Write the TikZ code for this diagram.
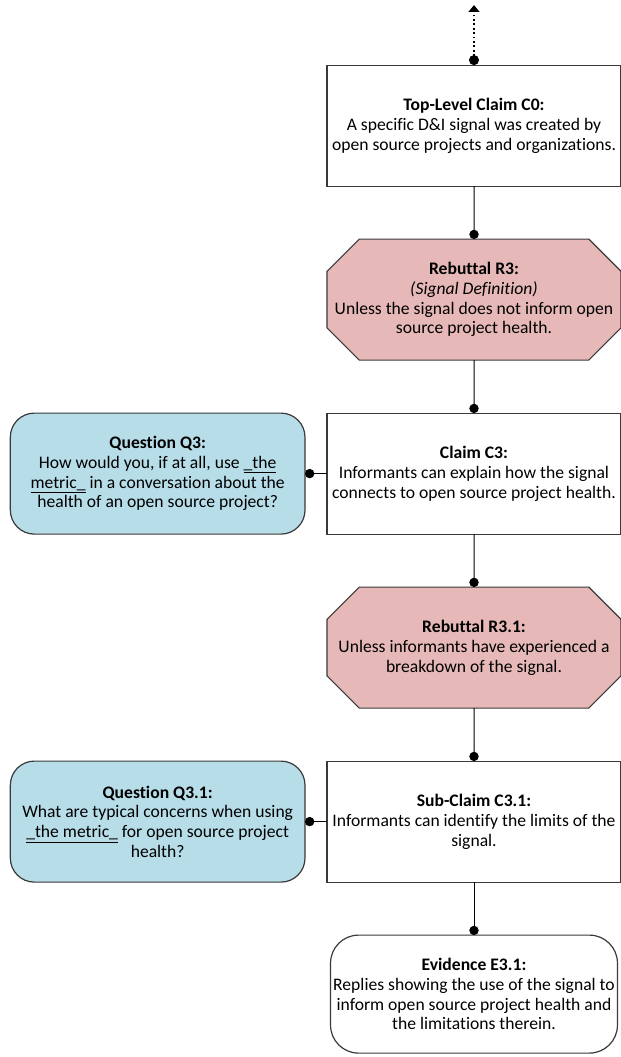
\documentclass[tikz,border=0pt]{standalone}
\usepackage{fontspec}
\setmainfont[Ligatures={NoCommon}]{Carlito}
\usetikzlibrary{shapes.misc, arrows.meta, positioning}
\definecolor{rebutfill}{HTML}{E6B9B8}
\definecolor{questfill}{HTML}{B7DDE8}
\definecolor{edge}{HTML}{3A3A3A}

\begin{document}
\begin{tikzpicture}[
    node distance=39.75pt,
    font=\fontsize{13.2}{14.8}\selectfont,
    claim/.style={
        rectangle,
        draw=edge, line width=0.9pt, outer sep=0pt,
        minimum width=220.5pt,
        minimum height=90.75pt,
        align=center, inner sep=2pt
    },
    rebuttal/.style={
        chamfered rectangle, chamfered rectangle xsep=21pt,
        draw=edge, line width=0.9pt, fill=rebutfill, outer sep=0pt,
        minimum width=220.5pt,
        minimum height=90.75pt,
        align=center, inner xsep=-20pt, inner ysep=2pt
    },
    question/.style={
        rectangle, rounded corners=18pt,
        draw=edge, line width=0.9pt, fill=questfill, outer sep=0pt,
        minimum width=221pt,
        minimum height=90.75pt,
        align=center, inner sep=2pt
    },
    evidence/.style={
        rectangle, rounded corners=21pt,
        draw=edge, line width=0.9pt, outer sep=0pt,
        minimum width=214pt,
        minimum height=88.5pt,
        align=center, inner sep=2pt
    },
    link/.style={-{Circle[length=7pt]}, draw=black, line width=0.75pt}
]
\useasboundingbox (0,0) rectangle (465.75pt,-792.75pt);

% Nodes
\node[claim] (c0) at (355.5pt,-94.2pt) {%
\textbf{Top-Level Claim C0:}\\
A specific D\&I signal was created by\\
open source projects and organizations.
};

\node[rebuttal, below=of c0] (r3) {%
\textbf{Rebuttal R3:}\\
\textit{(Signal Definition)}\\
Unless the signal does not inform open\\
source project health.
};

\node[claim, below=of r3] (c3) {%
\textbf{Claim C3:}\\
Informants can explain how the signal\\
connects to open source project health.
};

\node[question, left=16.5pt of c3] (q3) {%
\textbf{Question Q3:}\\
How would you, if at all, use \underline{\_the}\\
\underline{metric\_} in a conversation about the\\
health of an open source project?
};

\node[rebuttal, below=of c3] (r31) {%
\textbf{Rebuttal R3.1:}\\
Unless informants have experienced a\\
breakdown of the signal.
};

\node[claim, below=of r31] (c31) {%
\textbf{Sub-Claim C3.1:}\\
Informants can identify the limits of the\\
signal.
};

\node[question, left=16.5pt of c31] (q31) {%
\textbf{Question Q3.1:}\\
What are typical concerns when using\\
\underline{\_the metric\_} for open source project\\
health?
};

\node[evidence, below=of c31] (e31) {%
\textbf{Evidence E3.1:}\\
Replies showing the use of the signal to\\
inform open source project health and\\
the limitations therein.
};

\coordinate[above=45pt of c0.north] (up);

% Arrows
\draw[{Circle[length=7.5pt]}-{Triangle[length=5pt,width=8pt]}, dotted, line width=1.3pt] (c0.north) -- (up);
\draw[link] (c0) -- (r3);
\draw[link] (r3) -- (c3);
\draw[link] (c3) -- (q3);
\draw[link] (c3) -- (r31);
\draw[link] (r31) -- (c31);
\draw[link] (c31) -- (q31);
\draw[link] (c31) -- (e31);

\end{tikzpicture}
\end{document}
